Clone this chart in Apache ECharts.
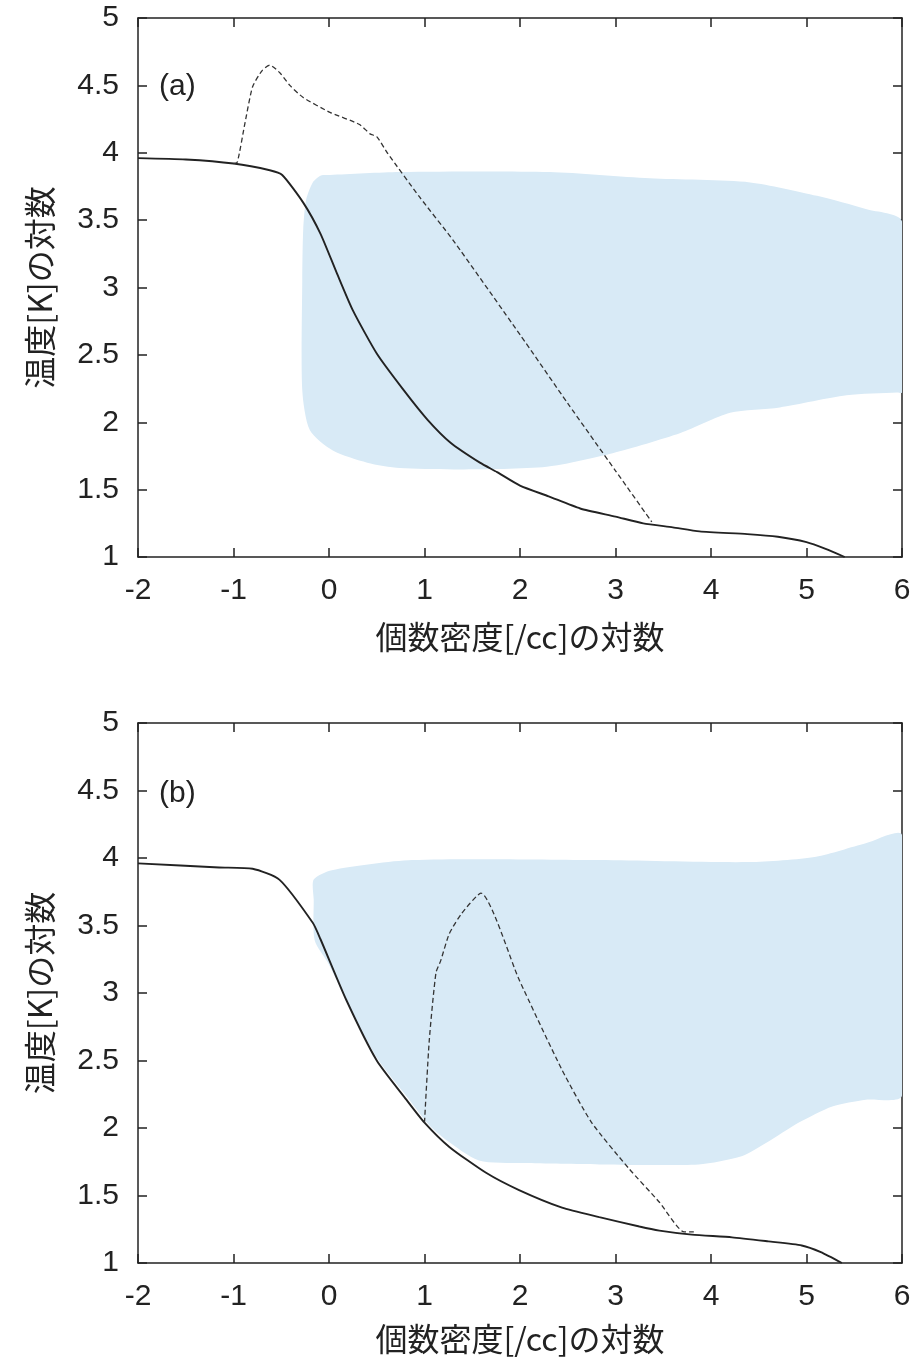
<!DOCTYPE html>
<html>
<head>
<meta charset="utf-8">
<script src="https://cdn.jsdelivr.net/npm/echarts@6/dist/echarts.min.js"></script>
<style>
  html, body { margin: 0; padding: 0; background: #fff; }
  #main { width: 914px; height: 1363px; }
</style>
</head>
<body>
<div id="main"></div>
<script>
// panel (a)
const xSolidA = [-2, -1.5, -1.0, -0.62, -0.49, -0.27, -0.09, 0.08, 0.25, 0.5, 0.78, 1.03, 1.27, 1.58, 1.76, 2.0, 2.3, 2.63, 3.0, 3.29, 3.6, 3.88, 4.38, 4.7, 5.0, 5.2, 5.4];
const ySolidA = [3.96, 3.95, 3.92, 3.87, 3.835, 3.63, 3.40, 3.11, 2.83, 2.51, 2.24, 2.02, 1.85, 1.70, 1.63, 1.53, 1.45, 1.36, 1.30, 1.25, 1.22, 1.19, 1.17, 1.15, 1.11, 1.06, 1.0];
const xDashA = [-1.0, -0.96, -0.88, -0.80, -0.70, -0.62, -0.51, -0.41, -0.27, 0.01, 0.32, 0.43, 0.50, 0.61, 0.95, 1.30, 2.0, 2.5, 3.0, 3.38];
const yDashA = [3.92, 3.93, 4.22, 4.49, 4.61, 4.65, 4.59, 4.50, 4.41, 4.30, 4.21, 4.14, 4.12, 4.00, 3.67, 3.35, 2.65, 2.14, 1.64, 1.26];
const xBlueA = [0.01, 0.74, 2.31, 3.36, 4.41, 5.11, 5.63, 6.0, 6.0, 5.95, 5.42, 4.72, 4.20, 3.68, 2.97, 2.28, 1.37, 0.74, 0.40, 0.04, -0.20, -0.28, -0.28, -0.27, -0.24, -0.17, -0.09];
const yBlueA = [3.835, 3.857, 3.857, 3.81, 3.78, 3.68, 3.58, 3.49, 2.22, 2.22, 2.20, 2.11, 2.07, 1.92, 1.77, 1.67, 1.65, 1.66, 1.70, 1.79, 1.94, 2.24, 3.06, 3.43, 3.65, 3.78, 3.83];

// panel (b)
const xSolidB = [-2, -1.15, -0.8, -0.52, -0.17, -0.09, 0.18, 0.5, 0.81, 1.0, 1.26, 1.64, 1.99, 2.44, 2.83, 3.25, 3.46, 3.8, 4.22, 4.6, 4.95, 5.15, 5.37];
const ySolidB = [3.96, 3.93, 3.92, 3.84, 3.52, 3.40, 2.95, 2.50, 2.21, 2.04, 1.86, 1.67, 1.54, 1.41, 1.34, 1.27, 1.24, 1.21, 1.19, 1.16, 1.13, 1.08, 1.0];
const xDashB = [1.0, 1.05, 1.12, 1.17, 1.26, 1.39, 1.59, 1.99, 2.44, 2.75, 3.14, 3.46, 3.72, 3.82];
const yDashB = [2.04, 2.65, 3.15, 3.24, 3.44, 3.59, 3.74, 3.10, 2.43, 2.04, 1.70, 1.45, 1.23, 1.23];
const xBlueB = [-0.16, 0.03, 0.87, 2.83, 4.40, 5.10, 5.62, 6.0, 6.0, 5.62, 5.27, 4.92, 4.58, 4.32, 3.87, 2.83, 2.03, 1.57, 1.23, 1.05, 0.84, 0.52, 0.23, 0.0, -0.15, -0.16];
const yBlueB = [3.84, 3.91, 3.985, 3.985, 3.97, 4.01, 4.11, 4.17, 2.24, 2.21, 2.16, 2.04, 1.89, 1.79, 1.73, 1.73, 1.74, 1.76, 1.91, 2.02, 2.21, 2.50, 2.87, 3.21, 3.39, 3.69];

const xTicks = { min: -2, max: 6, interval: 1 };
const yTicks = { min: 1, max: 5, interval: 0.5 };

const INK = '#222';
const BLUE = '#d8eaf6';
const FONT = "'Liberation Sans', 'Noto Sans CJK JP', sans-serif";
const JP = "'Noto Sans CJK JP', sans-serif";
const xName = '個数密度[/cc]の対数';
const yName = '温度[K]の対数';

const pairs = (xs, ys) => xs.map((x, i) => [x, ys[i]]);

function blueItem(params, api) {
  if (params.dataIndex !== 0) return null;
  const n = params.dataInsideLength;
  const pts = [];
  for (let i = 0; i < n; i++) pts.push(api.coord([api.value(0, i), api.value(1, i)]));
  return { type: 'polygon', shape: { points: pts, smooth: 0.25 }, style: { fill: BLUE } };
}

function xAx(grid, pos, showLabel, nameGap) {
  return {
    type: 'value', gridIndex: grid, position: pos,
    min: xTicks.min, max: xTicks.max, interval: xTicks.interval,
    splitLine: { show: false },
    axisLine: { show: true, onZero: false, lineStyle: { color: INK, width: 1.5 } },
    axisTick: { show: true, inside: true, length: 9, lineStyle: { color: INK, width: 1.5 } },
    axisLabel: { show: showLabel, color: INK, fontSize: 30, fontFamily: FONT, margin: 19 },
    name: showLabel ? xName : '', nameLocation: 'middle', nameGap: nameGap,
    nameTextStyle: { color: INK, fontSize: 32, fontFamily: JP }
  };
}
function yAx(grid, pos, showLabel) {
  return {
    type: 'value', gridIndex: grid, position: pos,
    min: yTicks.min, max: yTicks.max, interval: yTicks.interval,
    splitLine: { show: false },
    axisLine: { show: true, onZero: false, lineStyle: { color: INK, width: 1.5 } },
    axisTick: { show: true, inside: true, length: 9, lineStyle: { color: INK, width: 1.5 } },
    axisLabel: { show: showLabel, color: INK, fontSize: 30, fontFamily: FONT, margin: 19 },
    name: showLabel ? yName : '', nameLocation: 'middle', nameGap: 82, nameRotate: 90,
    nameTextStyle: { color: INK, fontSize: 32, fontFamily: JP }
  };
}

function lineSeries(xi, yi, xs, ys, dashed) {
  return {
    type: 'line', xAxisIndex: xi, yAxisIndex: yi, data: pairs(xs, ys),
    showSymbol: false, smooth: 0.2, z: 3, clip: true,
    lineStyle: dashed ? { color: '#333', width: 1.3, type: [5, 3] } : { color: INK, width: 1.9 }
  };
}

const chart = echarts.init(document.getElementById('main'));
chart.setOption({
  animation: false,
  backgroundColor: '#fff',
  grid: [
    { left: 138, top: 18, width: 764, height: 539 },
    { left: 138, top: 723, width: 764, height: 540 }
  ],
  xAxis: [xAx(0, 'bottom', true, 64), xAx(0, 'top', false, 0), xAx(1, 'bottom', true, 60), xAx(1, 'top', false, 0)],
  yAxis: [yAx(0, 'left', true), yAx(0, 'right', false), yAx(1, 'left', true), yAx(1, 'right', false)],
  graphic: [
    { type: 'text', left: 159, top: 72, style: { text: '(a)', font: '30px ' + FONT, fill: INK } },
    { type: 'text', left: 159, top: 779, style: { text: '(b)', font: '30px ' + FONT, fill: INK } }
  ],
  series: [
    { type: 'custom', xAxisIndex: 0, yAxisIndex: 0, data: pairs(xBlueA, yBlueA), renderItem: blueItem, clip: true, z: 1, silent: true },
    lineSeries(0, 0, xSolidA, ySolidA, false),
    lineSeries(0, 0, xDashA, yDashA, true),
    { type: 'custom', xAxisIndex: 2, yAxisIndex: 2, data: pairs(xBlueB, yBlueB), renderItem: blueItem, clip: true, z: 1, silent: true },
    lineSeries(2, 2, xSolidB, ySolidB, false),
    lineSeries(2, 2, xDashB, yDashB, true)
  ]
});
</script>
</body>
</html>
